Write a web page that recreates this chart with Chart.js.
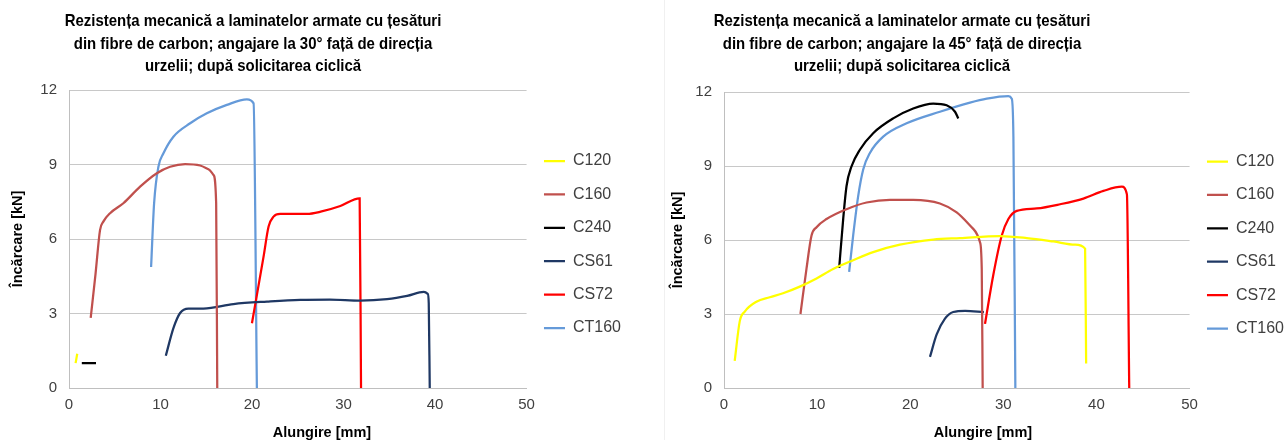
<!DOCTYPE html>
<html>
<head>
<meta charset="utf-8">
<script src="https://cdn.jsdelivr.net/npm/chart.js@4.4.1/dist/chart.umd.min.js"></script>
<style>
  html, body { margin: 0; padding: 0; background: #fff; overflow: hidden; }
  body { width: 1286px; height: 440px; position: relative; }
  .panel { position: absolute; top: 0; height: 440px; }
  .title {
    position: absolute; top: 10px; width: 500px; text-align: center;
    font-family: "Liberation Sans", Arial, sans-serif;
    font-weight: bold; font-size: 17px; line-height: 22.5px; color: #000;
    transform: scaleX(0.88); transform-origin: 250px 0;
  }
  .axis-title {
    position: absolute; top: 423px; width: 200px; text-align: center;
    font-family: "Liberation Sans", Arial, sans-serif;
    font-weight: bold; font-size: 14.5px; line-height: 18px; color: #000;
  }
  .frame { position: absolute; left: 664px; top: 0; width: 1px; height: 440px; background: #f0f0f0; }
</style>
</head>
<body>
<div class="panel" style="left:0;width:640px"><canvas id="chart30" width="640" height="440"></canvas></div>
<div class="frame"></div>
<div class="panel" style="left:640px;width:654px"><canvas id="chart45" width="654" height="440"></canvas></div>
<div class="title" style="left:3px">Rezistența mecanică a laminatelor armate cu țesături<br>din fibre de carbon; angajare la 30° față de direcția<br>urzelii; după solicitarea ciclică</div>
<div class="title" style="left:652px">Rezistența mecanică a laminatelor armate cu țesături<br>din fibre de carbon; angajare la 45° față de direcția<br>urzelii; după solicitarea ciclică</div>
<div class="axis-title" style="left:222px">Alungire [mm]</div>
<div class="axis-title" style="left:883px">Alungire [mm]</div>
<script>
const seriesNames = ['C120', 'C160', 'C240', 'CS61', 'CS72', 'CT160'];
const seriesColors = ['#ffff00', '#c0504d', '#000000', '#1f3864', '#ff0000', '#659ad9'];
const xTicks = [0, 10, 20, 30, 40, 50];
const yTicks = [0, 3, 6, 9, 12];

// 30° orientation, [elongation mm, load kN]
const c120_30 = [[0.72, 1.0], [0.9, 1.38]];
const c160_30 = [[2.37, 2.82], [2.9, 4.6], [3.39, 6.36], [3.75, 6.7], [4.49, 7.04], [5.94, 7.44], [7.77, 8.11],
  [9.6, 8.65], [11.05, 8.91], [12.69, 9.02], [14.33, 8.96], [15.24, 8.81], [15.79, 8.58], [16.08, 7.45], [16.2, 0]];
const c240_30 = [[1.4, 1.0], [2.95, 1.0]];
const cs61_30 = [[10.58, 1.3], [11.41, 2.41], [12.14, 3.02], [13.05, 3.2], [14.69, 3.2], [17.97, 3.38], [21.63, 3.48],
  [25.27, 3.55], [28.5, 3.56], [31.84, 3.52], [34.76, 3.58], [36.95, 3.71], [38.77, 3.87], [39.2, 3.79], [39.31, 3.42], [39.42, 0]];
const cs72_30 = [[19.99, 2.61], [21.26, 5.29], [21.81, 6.5], [22.35, 6.9], [23.08, 7.01], [26.0, 7.01], [27.5, 7.1],
  [29.65, 7.33], [31.76, 7.64], [31.91, 0]];
const ct160_30 = [[8.97, 4.87], [9.3, 7.44], [9.77, 8.91], [10.32, 9.45], [11.41, 10.12], [13.24, 10.66], [15.06, 11.06],
  [17.25, 11.4], [19.44, 11.62], [20.17, 11.46], [20.53, 0]];

// 45° orientation
const c120_45 = [[1.15, 1.1], [1.69, 2.7], [2.23, 3.1], [3.48, 3.5], [4.91, 3.68], [6.34, 3.84], [8.14, 4.11], [9.94, 4.44],
  [11.72, 4.82], [13.87, 5.18], [16.02, 5.51], [18.89, 5.81], [22.47, 6.02], [25.34, 6.08], [29.64, 6.16], [32.52, 6.08],
  [35.38, 5.94], [37.71, 5.81], [38.78, 5.65], [38.89, 0.99]];
const c160_45 = [[8.21, 3.0], [8.86, 4.84], [9.4, 6.18], [9.94, 6.52], [11.01, 6.85], [13.16, 7.25], [15.31, 7.52],
  [17.82, 7.63], [20.32, 7.63], [23.19, 7.48], [24.99, 7.12], [26.77, 6.45], [27.49, 5.91], [27.68, 4.84], [27.78, 0]];
const c240_45 = [[12.37, 4.87], [12.8, 6.85], [13.16, 8.19], [13.7, 8.99], [14.59, 9.66], [16.02, 10.33], [18.17, 10.93],
  [20.32, 11.33], [22.47, 11.53], [23.91, 11.46], [24.81, 11.2], [25.16, 10.93]];
const cs61_45 = [[22.12, 1.26], [22.84, 2.17], [23.73, 2.81], [24.62, 3.08], [25.9, 3.13], [27.92, 3.08]];
const cs72_45 = [[28.03, 2.6], [28.92, 4.58], [29.83, 6.18], [30.54, 6.85], [31.44, 7.18], [33.59, 7.28], [36.1, 7.45],
  [38.6, 7.68], [40.75, 7.99], [42.73, 8.16], [43.27, 7.85], [43.52, 0]];
const ct160_45 = [[13.44, 4.71], [13.87, 6.18], [14.41, 7.78], [14.95, 8.86], [15.67, 9.53], [17.1, 10.19], [19.61, 10.73],
  [23.19, 11.2], [26.42, 11.57], [28.22, 11.73], [30.54, 11.83], [30.9, 11.73], [31.08, 10.19], [31.29, 0]];

const fontFamily = '"Liberation Sans", Arial, sans-serif';
const textColor = '#404040';

function buildChart(id, curves, o) {
  return new Chart(document.getElementById(id), {
    type: 'scatter',
    data: {
      datasets: seriesNames.map((name, i) => ({
        label: name,
        data: curves[i].map(p => ({ x: p[0], y: p[1] })),
        showLine: true,
        borderColor: seriesColors[i],
        backgroundColor: seriesColors[i],
        borderWidth: 2.25,
        pointRadius: 0,
        pointHoverRadius: 0,
        pointStyle: 'line',
        cubicInterpolationMode: 'monotone'
      }))
    },
    options: {
      responsive: false,
      animation: false,
      events: [],
      layout: { padding: { top: o.top, right: o.right, bottom: 0, left: 0 } },
      plugins: {
        tooltip: { enabled: false },
        legend: {
          position: 'right',
          fullSize: false,
          // blank title only pushes the entries down a little
          title: { display: true, text: ' ', font: { size: 1 }, padding: o.legendShift },
          labels: {
            usePointStyle: true,
            pointStyle: 'line',
            pointStyleWidth: 21,
            padding: 17.4,
            color: textColor,
            font: { family: fontFamily, size: 16 }
          }
        }
      },
      scales: {
        x: {
          type: 'linear',
          min: 0,
          max: 50,
          afterBuildTicks: s => { s.ticks = xTicks.map(v => ({ value: v })); },
          afterFit: s => { s.height = 52; },
          ticks: { padding: 8, color: textColor, font: { family: fontFamily, size: 15 } },
          grid: { display: false, drawTicks: false },
          border: { color: '#bfbfbf', width: 1 },
          title: { display: false }
        },
        y: {
          min: 0,
          max: 12,
          afterBuildTicks: s => { s.ticks = yTicks.map(v => ({ value: v })); },
          afterFit: s => { s.width = o.yWidth; },
          ticks: { padding: 12, color: textColor, font: { family: fontFamily, size: 15 } },
          grid: { color: '#c8c8c8', drawTicks: false },
          border: { color: '#bfbfbf', width: 1 },
          title: {
            display: true, text: 'Încărcare [kN]', color: '#000',
            font: { family: fontFamily, size: 14.5, weight: 'bold' },
            padding: { top: o.yTitlePad, bottom: 0 }
          }
        }
      }
    }
  });
}

buildChart('chart30', [c120_30, c160_30, c240_30, cs61_30, cs72_30, ct160_30],
  { top: 90, right: 9, yWidth: 69, yTitlePad: 9, legendShift: 4.9 });
buildChart('chart45', [c120_45, c160_45, c240_45, cs61_45, cs72_45, ct160_45],
  { top: 92, right: 0, yWidth: 84, yTitlePad: 29, legendShift: 4.4 });
</script>
</body>
</html>
